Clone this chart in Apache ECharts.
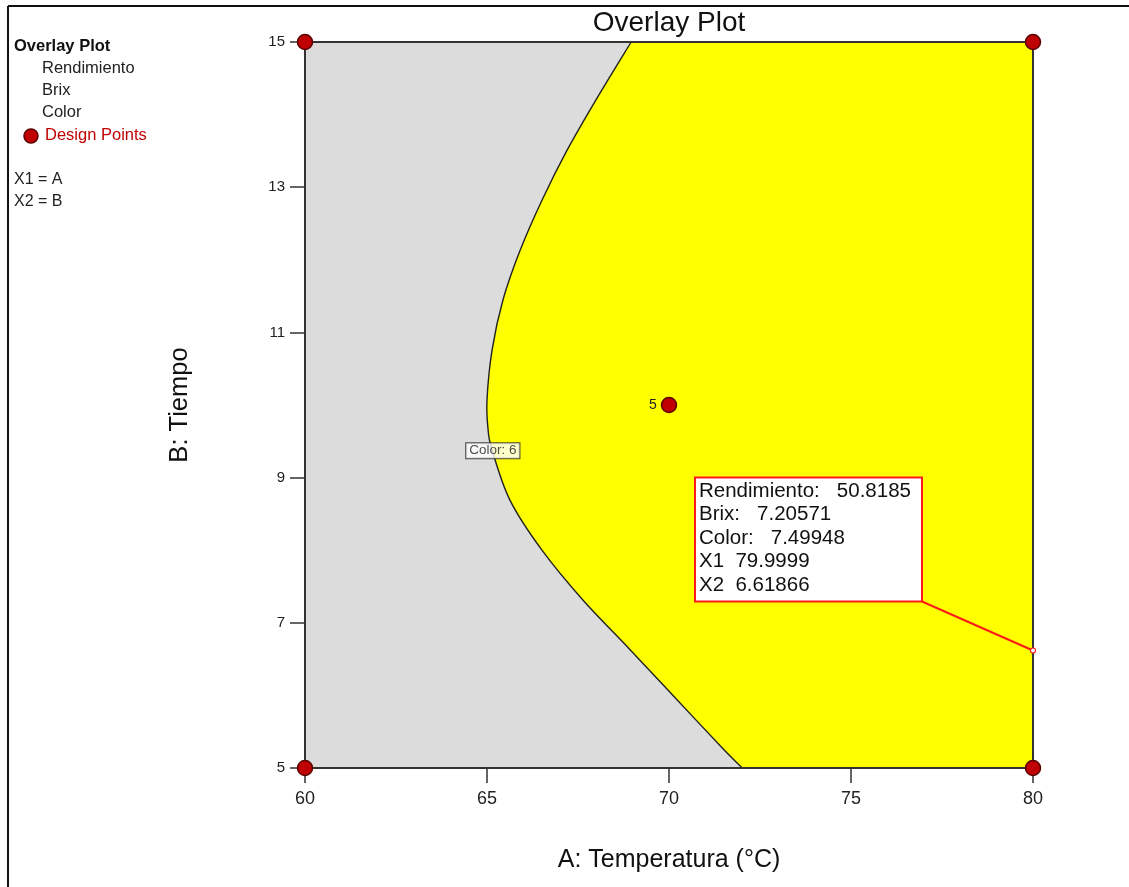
<!DOCTYPE html>
<html>
<head>
<meta charset="utf-8">
<script src="https://cdn.jsdelivr.net/npm/echarts@6/dist/echarts.min.js"></script>
<style>
html,body{margin:0;padding:0;background:#fff;}
#main{width:1129px;height:887px;}
</style>
</head>
<body>
<div id="main"></div>
<script>
// ---- data ----
const xTicks = [60, 65, 70, 75, 80];
const yTicks = [5, 7, 9, 11, 13, 15];
// Colour = 6 contour (boundary between grey and yellow region)
const boundaryA = [68.96, 67.99, 67.20, 66.51, 65.91, 65.44, 65.14, 65.00, 65.03, 65.14, 65.63, 66.51, 67.64, 68.93, 70.22, 71.51, 72.01];
const boundaryB = [15.00, 14.20, 13.51, 12.82, 12.13, 11.45, 10.76, 10.07, 9.66, 9.38, 8.69, 8.00, 7.31, 6.63, 5.94, 5.25, 5.00];
const designA = [60, 80, 60, 80, 70];
const designB = [15, 15, 5, 5, 10];
const designRuns = ['', '', '', '', '5'];
const contourLabel = ['Color: 6'];
const contourLabelA = [65.16];
const contourLabelB = [9.37];
const flagA = [80];
const flagB = [6.61866];
const flagLines = ['Rendimiento:   50.8185', 'Brix:   7.20571', 'Color:   7.49948', 'X1  79.9999', 'X2  6.61866'];
const legendItems = ['Rendimiento', 'Brix', 'Color'];

const FONT = '"Liberation Sans", Arial, sans-serif';
const chart = echarts.init(document.getElementById('main'), null, {renderer: 'canvas'});

// Catmull-Rom -> cubic bezier path through pixel points (rendering only)
function splinePath(pts) {
  let d = 'M' + pts[0][0] + ' ' + pts[0][1];
  for (let i = 0; i < pts.length - 1; i++) {
    const p0 = pts[Math.max(i - 1, 0)], p1 = pts[i], p2 = pts[i + 1], p3 = pts[Math.min(i + 2, pts.length - 1)];
    const c1x = p1[0] + (p2[0] - p0[0]) / 6, c1y = p1[1] + (p2[1] - p0[1]) / 6;
    const c2x = p2[0] - (p3[0] - p1[0]) / 6, c2y = p2[1] - (p3[1] - p1[1]) / 6;
    d += ' C' + c1x + ' ' + c1y + ' ' + c2x + ' ' + c2y + ' ' + p2[0] + ' ' + p2[1];
  }
  return d;
}

const option = {
  backgroundColor: '#ffffff',
  animation: false,
  title: {
    text: 'Overlay Plot', left: 664, top: 4, textAlign: 'center',
    textStyle: {fontFamily: FONT, fontSize: 28, fontWeight: 'normal', color: '#111'}
  },
  grid: {left: 305, top: 42, right: 96, bottom: 119, show: true, backgroundColor: '#dcdcdc', borderColor: '#333', borderWidth: 0},
  xAxis: {
    type: 'value', min: 60, max: 80, interval: 5,
    name: 'A: Temperatura (°C)', nameLocation: 'middle', nameGap: 80,
    nameTextStyle: {fontFamily: FONT, fontSize: 25, color: '#111'},
    axisLine: {show: true, lineStyle: {color: '#333', width: 2}},
    axisTick: {show: true, length: 15, lineStyle: {color: '#333', width: 1.5}},
    axisLabel: {fontFamily: FONT, fontSize: 18, color: '#222', margin: 22},
    splitLine: {show: false}
  },
  yAxis: {
    type: 'value', min: 5, max: 15, interval: 2,
    name: 'B: Tiempo', nameLocation: 'middle', nameGap: 112,
    nameTextStyle: {fontFamily: FONT, fontSize: 25.5, color: '#111'},
    axisLine: {show: true, lineStyle: {color: '#333', width: 2}},
    axisTick: {show: true, length: 15, lineStyle: {color: '#333', width: 1.5}},
    axisLabel: {fontFamily: FONT, fontSize: 15, color: '#222', margin: 20},
    splitLine: {show: false}
  },
  graphic: [
    {type: 'line', shape: {x1: 8, y1: 6, x2: 1129, y2: 6}, style: {stroke: '#111', lineWidth: 2}},
    {type: 'line', shape: {x1: 8, y1: 6, x2: 8, y2: 887}, style: {stroke: '#111', lineWidth: 2}},
    {type: 'text', left: 14, top: 38, style: {text: 'Overlay Plot', font: 'bold 16.5px ' + FONT, fill: '#111'}},
    ...legendItems.map((t, i) => ({type: 'text', left: 42, top: 60 + i * 22, style: {text: t, font: '16.5px ' + FONT, fill: '#222'}})),
    {type: 'circle', shape: {cx: 31, cy: 136, r: 7}, style: {fill: '#c00000', stroke: '#5a0000', lineWidth: 1.5}},
    {type: 'text', left: 45, top: 127, style: {text: 'Design Points', font: '16.5px ' + FONT, fill: '#c00000'}},
    {type: 'text', left: 14, top: 172, style: {text: 'X1 = A', font: '16px ' + FONT, fill: '#222'}},
    {type: 'text', left: 14, top: 194, style: {text: 'X2 = B', font: '16px ' + FONT, fill: '#222'}}
  ],
  series: [
    {
      type: 'custom', z: 1, silent: true, clip: false,
      data: [0],
      renderItem: function (params, api) {
        const pts = boundaryA.map((a, i) => api.coord([a, boundaryB[i]]));
        const curve = splinePath(pts);
        const c1 = api.coord([80, 5]), c2 = api.coord([80, 15]);
        const fillPath = curve + ' L' + c1[0] + ' ' + c1[1] + ' L' + c2[0] + ' ' + c2[1] + ' Z';
        const tl = api.coord([60, 15]);
        const br = api.coord([80, 5]);
        return {
          type: 'group',
          children: [
            {type: 'path', shape: {pathData: fillPath}, style: {fill: '#ffff00', stroke: null}},
            {type: 'path', shape: {pathData: curve}, style: {fill: null, stroke: '#222', lineWidth: 1.4}},
            {type: 'rect', shape: {x: tl[0], y: tl[1], width: br[0] - tl[0], height: br[1] - tl[1]}, style: {fill: null, stroke: '#333', lineWidth: 2}}
          ]
        };
      }
    },
    {
      type: 'scatter', z: 6, clip: false, silent: true,
      data: contourLabelA.map((a, i) => ({value: [a, contourLabelB[i]], name: contourLabel[i]})),
      symbolSize: 0,
      label: {
        show: true, position: 'inside', formatter: '{b}',
        fontFamily: FONT, fontSize: 13.5, color: '#222',
        backgroundColor: '#ffffff', borderColor: '#222', borderWidth: 1,
        padding: [1, 3, 0, 3]
      }
    },
    {
      type: 'scatter', z: 8, clip: false, silent: true,
      data: designA.map((a, i) => ({value: [a, designB[i]], name: designRuns[i]})),
      symbol: 'circle', symbolSize: 15,
      itemStyle: {color: '#c00000', borderColor: '#5a0000', borderWidth: 1.5, opacity: 1},
      label: {show: true, position: 'left', distance: 4, formatter: '{b}', fontFamily: FONT, fontSize: 14, color: '#222'}
    },
    {
      type: 'custom', z: 10, silent: true, clip: false,
      data: flagA.map((a, i) => [a, flagB[i]]),
      renderItem: function (params, api) {
        const p = api.coord([api.value(0), api.value(1)]);
        const bw = 227, bh = 124;
        const bx = p[0] - 111 - bw, by = p[1] - 49 - bh;
        const children = [
          {type: 'line', shape: {x1: bx + bw, y1: by + bh, x2: p[0], y2: p[1]}, style: {stroke: '#ff1a1a', lineWidth: 2}},
          {type: 'rect', shape: {x: bx, y: by, width: bw, height: bh}, style: {fill: '#ffffff', stroke: '#ff1a1a', lineWidth: 2}},
          {type: 'circle', shape: {cx: p[0], cy: p[1], r: 2.5}, style: {fill: '#ffffff', stroke: '#ff1a1a', lineWidth: 1.2}}
        ];
        flagLines.forEach((t, i) => {
          children.push({type: 'text', x: bx + 4, y: by + 3 + i * 23.6, style: {text: t, font: '20.5px ' + FONT, fill: '#111', textVerticalAlign: 'top'}});
        });
        return {type: 'group', children: children};
      }
    }
  ]
};
chart.setOption(option);
</script>
</body>
</html>
